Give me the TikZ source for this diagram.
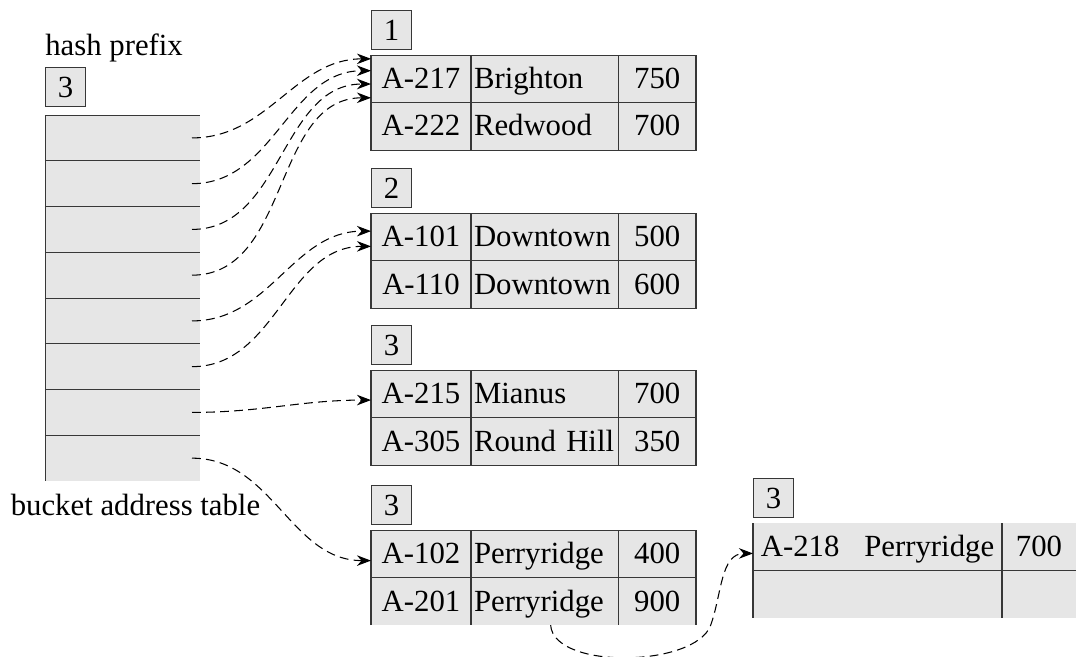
\documentclass[tikz,border=0pt]{standalone}
\usepackage{fontspec}
\setmainfont{Liberation Serif}
\usepackage{tikz}
\usetikzlibrary{arrows.meta, positioning, calc}
\definecolor{cellgray}{RGB}{230,230,230}
\definecolor{rulegray}{RGB}{55,55,55}
\newcommand{\tblfont}{\fontsize{17.5}{21}\selectfont}
\tikzset{
  cell/.style={rectangle, draw=rulegray, fill=cellgray, minimum height=0.95cm,
    inner sep=0pt, outer sep=0pt, font=\tblfont, line width=0.6pt,
    text height=11.5pt, text depth=0.5pt},
  idcell/.style={cell, minimum width=2cm},
  namecell/.style={cell, text width=2.83cm, inner xsep=0.06cm, align=left},
  amtcell/.style={cell, minimum width=1.55cm},
  tag/.style={rectangle, draw=rulegray, fill=cellgray, minimum width=0.8cm,
    minimum height=0.78cm, inner sep=0pt, font=\tblfont, line width=0.6pt},
  entry/.style={rectangle, fill=cellgray, minimum width=3.1cm,
    minimum height=0.915cm, inner sep=0pt, outer sep=0pt},
  caption/.style={font=\tblfont, inner sep=0pt},
  rule/.style={draw=rulegray, line width=0.6pt},
  ptr/.style={-{Stealth[length=8pt, width=6pt]}, dash pattern=on 5pt off 3pt,
    line width=0.6pt, color=black}
}

\begin{document}
\begin{tikzpicture}
  \useasboundingbox (0,0) rectangle (21.52,13.14);

  % bucket address table
  \node[tag, anchor=north west] (hp) at (0.9,11.8) {3};
  \node[caption, above right=0.1cm and 0cm of hp.north west] (hptxt) {hash prefix};
  \node[entry, below right=0.16cm and 0cm of hp.south west] (e1) {};
  \foreach \i [count=\j from 2] in {1,...,7}
    \node[entry, below=0pt of e\i] (e\j) {};
  \foreach \i in {1,...,8}
    \draw[rule] (e\i.north west) -- (e\i.north east);
  \draw[rule, line width=0.4pt] (e1.north west) -- (e8.south west);
  \node[caption, below=0.25cm of e8, xshift=0.26cm] (battxt) {bucket address table};

  % bucket 1
  \node[tag, anchor=north west] (lb1) at (7.42,12.94) {1};
  \node[idcell, below right=0.1cm and 0cm of lb1.south west] (id11) {A-217};
  \node[namecell, right=0pt of id11] (nm11) {Brighton};
  \node[amtcell, right=0pt of nm11] (amt11) {750};
  \node[idcell, below=0pt of id11] (id12) {A-222};
  \node[namecell, right=0pt of id12] (nm12) {Redwood};
  \node[amtcell, right=0pt of nm12] (amt12) {700};

  % bucket 2
  \node[tag, below right=0.36cm and 0cm of id12.south west] (lb2) {2};
  \node[idcell, below right=0.1cm and 0cm of lb2.south west] (id21) {A-101};
  \node[namecell, right=0pt of id21] (nm21) {Downtown};
  \node[amtcell, right=0pt of nm21] (amt21) {500};
  \node[idcell, below=0pt of id21] (id22) {A-110};
  \node[namecell, right=0pt of id22] (nm22) {Downtown};
  \node[amtcell, right=0pt of nm22] (amt22) {600};

  % bucket 3
  \node[tag, below right=0.34cm and 0cm of id22.south west] (lb3) {3};
  \node[idcell, below right=0.1cm and 0cm of lb3.south west] (id31) {A-215};
  \node[namecell, right=0pt of id31] (nm31) {Mianus};
  \node[amtcell, right=0pt of nm31] (amt31) {700};
  \node[idcell, below=0pt of id31] (id32) {A-305};
  \node[namecell, right=0pt of id32] (nm32) {Round~Hill};
  \node[amtcell, right=0pt of nm32] (amt32) {350};

  % bucket 4, open at the bottom
  \node[tag, below right=0.4cm and 0cm of id32.south west] (lb4) {3};
  \node[idcell, draw=none, below right=0.1cm and 0cm of lb4.south west] (id41) {A-102};
  \node[namecell, draw=none, right=0pt of id41] (nm41) {Perryridge};
  \node[amtcell, draw=none, right=0pt of nm41] (amt41) {400};
  \node[idcell, draw=none, below=0pt of id41] (id42) {A-201};
  \node[namecell, draw=none, right=0pt of id42] (nm42) {Perryridge};
  \node[amtcell, draw=none, right=0pt of nm42] (amt42) {900};
  \draw[rule] (id42.south west) -- (id41.north west) -- (amt41.north east) -- (amt42.south east);
  \draw[rule] (id41.south west) -- (amt41.south east);
  \draw[rule] (nm41.north west) -- (nm42.south west);
  \draw[rule] (nm41.north east) -- (nm42.south east);

  % overflow bucket
  \node[tag, anchor=north west] (lbo) at (15.06,3.58) {3};
  \node[cell, draw=none, minimum width=4.98cm, below right=0.1cm and 0cm of lbo.south west] (ovn1) {A-218\hspace{0.5cm}Perryridge};
  \node[cell, draw=none, minimum width=1.48cm, right=0pt of ovn1] (ova1) {700};
  \node[cell, draw=none, minimum width=4.98cm, below=0pt of ovn1] (ovn2) {};
  \node[cell, draw=none, minimum width=1.48cm, right=0pt of ovn2] (ova2) {};
  \draw[rule] (ovn1.north west) -- (ovn2.south west);
  \draw[rule] (ovn1.south west) -- (ova1.south east);
  \draw[rule] (ovn1.north east) -- (ovn2.south east);

  % pointers
  \foreach \src/\dst/\f in {e1/id11/0.08, e2/id11/0.33, e3/id11/0.61, e4/id11/0.9,
                            e5/id21/0.38, e6/id21/0.7, e7/id31/0.63, e8/id41/0.64}
    \draw[ptr] ([xshift=-0.16cm]\src.east) to[out=0, in=180]
      ($(\dst.north west)!\f!(\dst.south west)$);
  \draw[ptr] ($(nm42.south west)!0.54!(nm42.south east)$)
    to[out=-86, in=-110, looseness=0.72] ++(3.2,0)
    to[out=70, in=180] ($(ovn1.north west)!0.64!(ovn1.south west)$);
\end{tikzpicture}
\end{document}
